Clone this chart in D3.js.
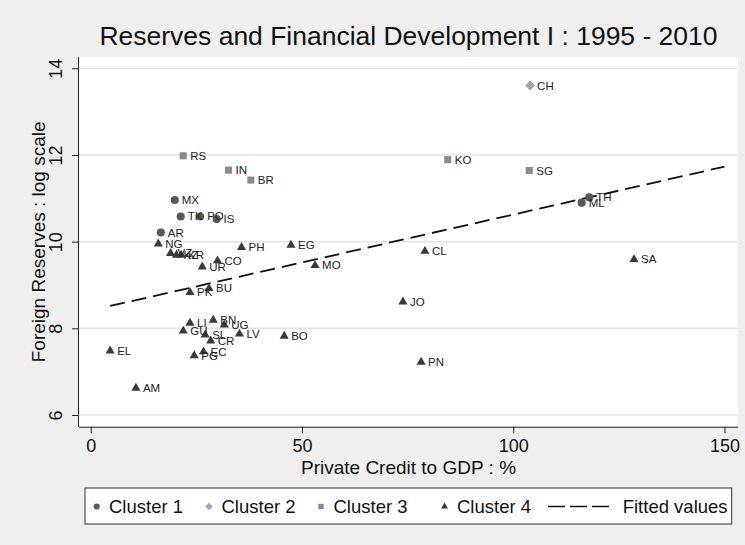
<!DOCTYPE html>
<html>
<head>
<meta charset="utf-8">
<script src="https://cdn.jsdelivr.net/npm/d3@7"></script>
<style>
  html, body { margin: 0; padding: 0; background: #efefef; }
  svg { display: block; font-family: "Liberation Sans", Arial, Helvetica, sans-serif; }
</style>
</head>
<body>
<svg id="chart" width="745" height="545"></svg>
<script>
// ---------------- DATA ----------------
const countries = ["MX","TK","PO","IS","AR","TH","ML",
                   "CH",
                   "RS","IN","BR","KO","SG",
                   "NG","VZ","KZ","KR","PH","EG","CO","UR","MO","CL","SA","JO","PN",
                   "PK","BU","LI","BN","UG","GU","SL","LV","CR","BO","EC","PG","EL","AM"];
const credit   = [19.9, 21.3, 25.9, 29.8, 16.6, 118.0, 116.2,
                  104.0,
                  21.9, 32.6, 37.9, 84.5, 103.8,
                  16.0, 18.9, 20.3, 21.4, 35.7, 47.4, 30.0, 26.4, 53.1, 79.1, 128.6, 73.9, 78.2,
                  23.5, 28.0, 23.5, 29.0, 31.6, 21.9, 27.1, 35.2, 28.4, 45.8, 26.7, 24.5, 4.6, 10.7];
const reserves = [10.96, 10.58, 10.58, 10.52, 10.21, 11.02, 10.90,
                  13.60,
                  11.98, 11.65, 11.42, 11.89, 11.64,
                  9.95, 9.73, 9.69, 9.69, 9.87, 9.92, 9.56, 9.42, 9.45, 9.78, 9.59, 8.61, 7.22,
                  8.83, 8.92, 8.12, 8.19, 8.08, 7.94, 7.85, 7.87, 7.71, 7.82, 7.46, 7.37, 7.48, 6.62];
const clusterOf = [1,1,1,1,1,1,1,
                   2,
                   3,3,3,3,3,
                   4,4,4,4,4,4,4,4,4,4,4,4,4,
                   4,4,4,4,4,4,4,4,4,4,4,4,4,4];
const fitCredit   = [4.6, 150];
const fitReserves = [8.515, 11.73];
const xTicks = [0, 50, 100, 150];
const yTicks = [6, 8, 10, 12, 14];
const legendNames = ["Cluster 1", "Cluster 2", "Cluster 3", "Cluster 4", "Fitted values"];

const titleText = "Reserves and Financial Development I : 1995 - 2010";
const xTitle = "Private Credit to GDP : %";
const yTitle = "Foreign Reserves : log scale";

// ---------------- STYLE ----------------
const clusterColor = {1: "#585858", 2: "#a6a6a6", 3: "#8a8a8a", 4: "#3a3a3a"};
function markerPath(c, k) {
  k = k || 1;
  if (c === 1) return d3.symbol(d3.symbolCircle, 52 * k * k)();
  if (c === 3) return d3.symbol(d3.symbolSquare, 50 * k * k)();
  if (c === 4) return d3.symbol(d3.symbolTriangle, 36 * k * k)();
  const r = 5 * k; // diamond: rotated square
  return `M0,${-r}L${r},0L0,${r}L${-r},0Z`;
}

// ---------------- LAYOUT ----------------
const svg = d3.select("#chart");
const plot = {left: 79, right: 738, top: 57, bottom: 426.7};

const x = d3.scaleLinear().domain([-2.77, 153.2]).range([plot.left, plot.right]);
const y = d3.scaleLinear().domain([5.73, 14.26]).range([plot.bottom, plot.top]);

svg.append("rect").attr("width", 745).attr("height", 545).attr("fill", "#efefef");

// plot region
svg.append("rect")
  .attr("x", plot.left).attr("y", plot.top)
  .attr("width", plot.right - plot.left).attr("height", plot.bottom - plot.top)
  .attr("fill", "#ffffff");

// grid lines
svg.append("g").selectAll("line").data(yTicks).join("line")
  .attr("x1", plot.left).attr("x2", plot.right)
  .attr("y1", d => y(d)).attr("y2", d => y(d))
  .attr("stroke", "#e4e4e4").attr("stroke-width", 1.5);

// title
svg.append("text")
  .attr("x", (plot.left + plot.right) / 2).attr("y", 45)
  .attr("text-anchor", "middle")
  .attr("font-size", 26).attr("fill", "#111")
  .attr("textLength", 618).attr("lengthAdjust", "spacingAndGlyphs")
  .text(titleText);

// x axis
const xAxis = svg.append("g").attr("transform", `translate(0,${plot.bottom})`)
  .call(d3.axisBottom(x).tickValues(xTicks).tickSize(6.5).tickPadding(6).tickSizeOuter(0));
xAxis.select(".domain").attr("d", `M${plot.left},0.5H${plot.right}`).attr("stroke", "#222");
xAxis.selectAll(".tick line").attr("stroke", "#222");
xAxis.selectAll(".tick text").attr("font-size", 18).attr("fill", "#111")
  .attr("font-family", "Liberation Sans, Arial, sans-serif").attr("dy", "0.7em");

// y axis
const yAxis = svg.append("g").attr("transform", `translate(${plot.left},0)`)
  .call(d3.axisLeft(y).tickValues(yTicks).tickSize(7).tickPadding(0).tickSizeOuter(0));
yAxis.select(".domain").attr("d", `M-0.5,${plot.top}V${plot.bottom}`).attr("stroke", "#222");
yAxis.selectAll(".tick line").attr("stroke", "#222");
yAxis.selectAll(".tick text")
  .attr("font-size", 18).attr("fill", "#111")
  .attr("font-family", "Liberation Sans, Arial, sans-serif")
  .attr("x", null).attr("dy", null)
  .attr("text-anchor", "middle")
  .attr("transform", "translate(-17.5,0) rotate(-90)");

// axis titles
svg.append("text")
  .attr("x", (plot.left + plot.right) / 2).attr("y", 473.5)
  .attr("text-anchor", "middle").attr("font-size", 19).attr("fill", "#111")
  .text(xTitle);
svg.append("text")
  .attr("transform", `translate(44.5,${(plot.top + plot.bottom) / 2}) rotate(-90)`)
  .attr("text-anchor", "middle").attr("font-size", 19).attr("fill", "#111")
  .text(yTitle);

// fitted line
const fitData = fitCredit.map((c, i) => [c, fitReserves[i]]);
svg.append("path")
  .datum(fitData)
  .attr("d", d3.line().x(d => x(d[0])).y(d => y(d[1])))
  .attr("fill", "none").attr("stroke", "#111").attr("stroke-width", 1.8)
  .attr("stroke-dasharray", "15,7");

// points
const pts = countries.map((n, i) => ({n, c: credit[i], r: reserves[i], k: clusterOf[i]}));
const gp = svg.append("g");
gp.selectAll("path").data(pts).join("path")
  .attr("transform", d => `translate(${x(d.c)},${y(d.r)})`)
  .attr("d", d => markerPath(d.k))
  .attr("fill", d => clusterColor[d.k]);
gp.selectAll("text").data(pts).join("text")
  .attr("x", d => x(d.c) + 7).attr("y", d => y(d.r) + 4)
  .attr("font-size", 11.5).attr("fill", "#222")
  .text(d => d.n);

// legend
const lg = {x: 85, y: 488, w: 646.7, h: 36};
svg.append("rect").attr("x", lg.x).attr("y", lg.y).attr("width", lg.w).attr("height", lg.h)
  .attr("fill", "#fff").attr("stroke", "#333").attr("stroke-width", 1);
const legMarkX = [96.7, 209, 321, 444.5];
const legTextX = [109, 221.5, 333.5, 457];
const legY = 506.5;
[1, 2, 3, 4].forEach((c, i) => {
  svg.append("path").attr("transform", `translate(${legMarkX[i]},${legY})`)
    .attr("d", markerPath(c, 0.75)).attr("fill", clusterColor[c]);
  svg.append("text").attr("x", legTextX[i]).attr("y", 513)
    .attr("font-size", 18.5).attr("fill", "#111").text(legendNames[i]);
});
svg.append("line").attr("x1", 548).attr("x2", 610).attr("y1", legY).attr("y2", legY)
  .attr("stroke", "#111").attr("stroke-width", 1.5).attr("stroke-dasharray", "17,5");
svg.append("text").attr("x", 622.7).attr("y", 513)
  .attr("font-size", 18.5).attr("fill", "#111").text(legendNames[4]);
</script>
</body>
</html>
